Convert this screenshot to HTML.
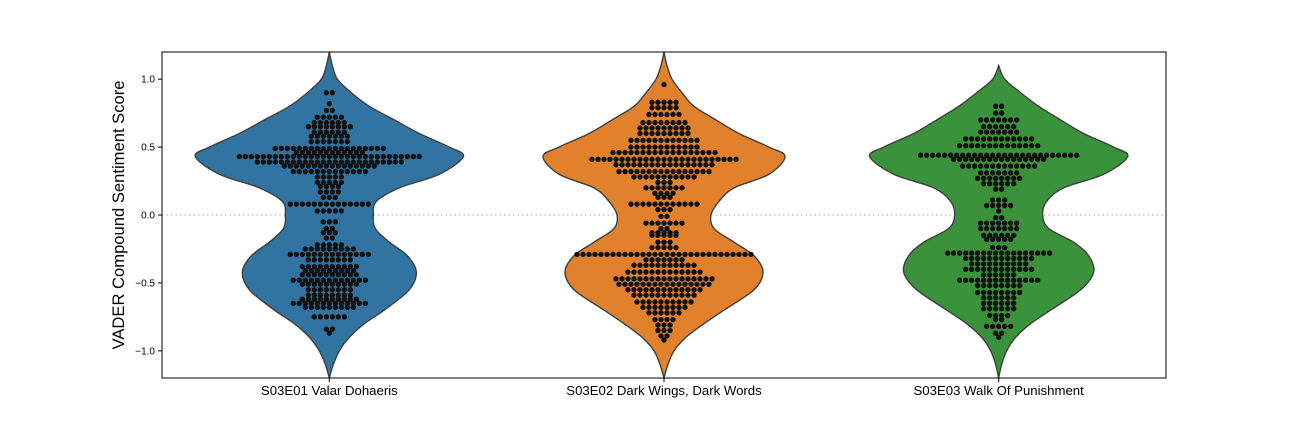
<!DOCTYPE html>
<html><head><meta charset="utf-8"><style>
body{margin:0;background:#fff;font-family:"Liberation Sans",sans-serif}
svg text{font-family:"Liberation Sans",sans-serif}
</style></head><body>
<svg id="chart" width="1296" height="432">
</svg>
<script>
const categories = ["S03E01 Valar Dohaeris","S03E02 Dark Wings, Dark Words","S03E03 Walk Of Punishment"];
const yTicks = [1.0,0.5,0.0,-0.5,-1.0];
const yTickLabels = ["1.0","0.5","0.0","\u22120.5","\u22121.0"];
const densityGrid = [1.2,1.1,1.0,0.9,0.8,0.7,0.6,0.5,0.43,0.3,0.2,0.1,0.0,-0.1,-0.2,-0.3,-0.42,-0.55,-0.7,-0.8,-0.9,-1.0,-1.1,-1.2];
const densityE1 = [0,3,8,22,40,65,90,120,134,110,70,47,44,46,60,78,87,80,55,35,20,10,4,0];
const densityE2 = [0,3,8,18,30,52,75,105,121,105,70,55,47,50,70,90,99,90,60,40,22,10,4,0];
const densityE3 = [0,0,6,22,40,62,85,115,129,105,65,48,44,50,75,90,95,82,52,32,17,8,3,0];
const rowsE1 = [0.90,0.82,0.77,0.72,0.68,0.65,0.61,0.58,0.54,0.49,0.46,0.43,0.39,0.36,0.32,0.28,0.24,0.21,0.17,0.13,0.08,0.03,-0.05,-0.10,-0.13,-0.17,-0.22,-0.25,-0.29,-0.33,-0.38,-0.41,-0.44,-0.48,-0.51,-0.55,-0.59,-0.62,-0.65,-0.68,-0.75,-0.84,-0.87];
const countsE1 = [2,1,2,5,6,8,6,7,7,19,12,31,25,16,13,5,5,4,4,3,14,5,3,2,3,2,5,9,14,8,10,9,10,13,10,8,8,10,13,9,6,2,1];
const rowsE2 = [0.96,0.83,0.79,0.74,0.68,0.64,0.60,0.55,0.50,0.46,0.41,0.37,0.32,0.28,0.24,0.20,0.16,0.13,0.08,0.04,-0.01,-0.06,-0.10,-0.13,-0.15,-0.20,-0.24,-0.29,-0.33,-0.37,-0.42,-0.47,-0.51,-0.55,-0.59,-0.64,-0.68,-0.72,-0.77,-0.81,-0.85,-0.89,-0.92];
const countsE2 = [1,5,5,6,8,9,9,12,12,18,25,17,16,11,3,7,4,3,12,3,2,7,2,5,5,3,5,30,7,11,13,17,16,13,11,10,8,6,4,3,3,2,1];
const rowsE3 = [0.80,0.75,0.70,0.65,0.61,0.56,0.51,0.44,0.41,0.36,0.31,0.27,0.23,0.19,0.11,0.07,0.03,-0.02,-0.06,-0.10,-0.15,-0.18,-0.24,-0.28,-0.32,-0.36,-0.40,-0.44,-0.48,-0.52,-0.57,-0.61,-0.65,-0.69,-0.74,-0.77,-0.82,-0.87,-0.90];
const countsE3 = [2,2,7,6,7,12,14,27,16,13,7,8,6,2,3,5,1,2,7,7,6,5,3,18,12,10,12,6,14,8,8,6,6,6,4,2,5,2,1];

const NS="http://www.w3.org/2000/svg";
const svg=document.getElementById('chart');
const L=162,R=1166,T=52,B=378;
const yMin=-1.2,yMax=1.2;
function yScale(v){return B-(v-yMin)/(yMax-yMin)*(B-T);}
function xScale(i){return L+(i+0.5)*(R-L)/categories.length;}
function mk(tag,attrs){const e=document.createElementNS(NS,tag);for(const k in attrs)e.setAttribute(k,attrs[k]);svg.appendChild(e);return e;}
const densities=[densityE1,densityE2,densityE3];
const rows=[rowsE1,rowsE2,rowsE3];
const counts=[countsE1,countsE2,countsE3];
const colors=["#3274a1","#e1812c","#3a923a"];
function smoothPath(pts){
  let d="M"+pts[0][0]+","+pts[0][1];
  for(let i=0;i<pts.length-1;i++){
    const p0=pts[Math.max(0,i-1)],p1=pts[i],p2=pts[i+1],p3=pts[Math.min(pts.length-1,i+2)];
    const c1=[p1[0]+(p2[0]-p0[0])/6,p1[1]+(p2[1]-p0[1])/6];
    const c2=[p2[0]-(p3[0]-p1[0])/6,p2[1]-(p3[1]-p1[1])/6];
    d+=" C"+c1[0]+","+c1[1]+" "+c2[0]+","+c2[1]+" "+p2[0]+","+p2[1];
  }
  return d;
}
const clip=mk('clipPath',{id:'plotclip'});
const cr=document.createElementNS(NS,'rect');
cr.setAttribute('x',L);cr.setAttribute('y',T);cr.setAttribute('width',R-L);cr.setAttribute('height',B-T);
clip.appendChild(cr);
const zl=mk('line',{x1:L,x2:R,y1:yScale(0),y2:yScale(0),stroke:'#bbb','stroke-width':1.2,'stroke-dasharray':'1.5,3'});


for(let c=0;c<3;c++){
  const cx=xScale(c);
  // trim extra leading/trailing zero-width points
  let s=0,e=densityGrid.length-1;
  while(s<e-1 && densities[c][s+1]===0) s++;
  while(e>s+1 && densities[c][e-1]===0) e--;
  const idx=[];for(let k=s;k<=e;k++)idx.push(k);
  const right=idx.map(k=>[cx+densities[c][k],yScale(densityGrid[k])]);
  const left=idx.map(k=>[cx-densities[c][k],yScale(densityGrid[k])]).reverse();
  let d=smoothPath(right)+" L"+left[0][0]+","+left[0][1]+smoothPath(left).replace(/^M[^ ]+/,"")+"Z";
  const p=mk('path',{d:d,fill:colors[c],stroke:'#3f3f3f','stroke-width':1.4,'clip-path':'url(#plotclip)'});
  
  
  const g=mk('g',{});
  
  
  rows[c].forEach((v,r)=>{
    const n=counts[c][r];
    for(let i=0;i<n;i++){
      const dot=document.createElementNS(NS,'circle');
      dot.setAttribute('cx',cx+(i-(n-1)/2)*6);
      dot.setAttribute('cy',yScale(v));
      dot.setAttribute('r',2.7);
      dot.setAttribute('fill','#111');
      
      
      g.appendChild(dot);
    }
  });
  const t=mk('text',{x:cx,y:395,'font-size':13.2,'text-anchor':'middle',fill:'#000'});
  t.textContent=categories[c];
  
  
}
const frame=mk('rect',{x:L,y:T,width:R-L,height:B-T,fill:'none',stroke:'#000','stroke-width':1});


yTicks.forEach((v,i)=>{
  const tl=mk('line',{x1:L-4,x2:L,y1:yScale(v),y2:yScale(v),stroke:'#000'});
  
  
  const t=mk('text',{x:L-7,y:yScale(v)+3.5,'font-size':10,'text-anchor':'end',fill:'#000'});
  t.textContent=yTickLabels[i];
  
  
});
categories.forEach((c,i)=>{
  const tl=mk('line',{x1:xScale(i),x2:xScale(i),y1:B,y2:B+4,stroke:'#000'});
  
  
});
const yt=mk('text',{x:0,y:0,'font-size':16.6,'text-anchor':'middle',fill:'#000',transform:'translate(124,215) rotate(-90)'});
yt.textContent="VADER Compound Sentiment Score";


</script>
</body></html>
